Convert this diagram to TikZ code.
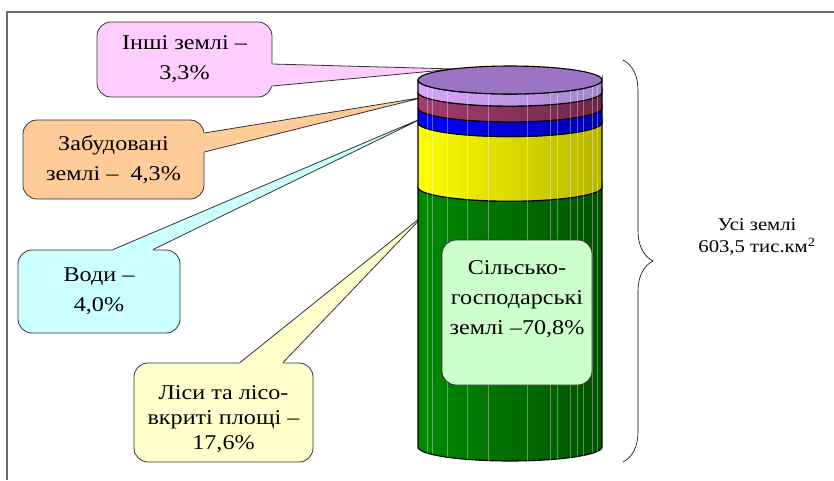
\documentclass[tikz,border=0pt]{standalone}
\usepackage{fontspec}
\setmainfont{Liberation Serif}
\newfontfamily\timesfont[FakeStretch=1.15]{Liberation Serif}
\usepackage{xcolor}
\usepackage{tikz}
\usetikzlibrary{decorations.pathreplacing, calc}

\definecolor{framegray}{HTML}{6B6B6B}
\definecolor{pinkbox}{HTML}{FFCCFF}
\definecolor{orangebox}{HTML}{FFCC99}
\definecolor{cyanbox}{HTML}{CCFFFF}
\definecolor{yellowbox}{HTML}{FFFFCC}
\definecolor{greenbox}{HTML}{CCFFCC}
\definecolor{greenL}{HTML}{008A00}
\definecolor{greenR}{HTML}{005200}
\definecolor{yellowL}{HTML}{FFFF00}
\definecolor{yellowR}{HTML}{B5B500}
\definecolor{blueL}{HTML}{0000FF}
\definecolor{blueR}{HTML}{0000B0}
\definecolor{maroonL}{HTML}{A33D70}
\definecolor{maroonR}{HTML}{6E2648}
\definecolor{lilacL}{HTML}{D9A6FF}
\definecolor{lilacR}{HTML}{A386C7}
\definecolor{lilacTop}{HTML}{9B74C4}

\begin{document}
\begin{tikzpicture}[
    x=1pt, y=-1pt,
    every node/.style={font=\timesfont\fontsize{21}{30}\selectfont, align=center},
    callout/.style={draw=black!80, line width=0.8pt, rounded corners=14pt, inner sep=4pt},
    wedge/.style={draw=black!80, line width=0.8pt},
    band/.style={draw=black, line width=1.1pt},
    decoration={brace, amplitude=30pt},
  ]
    \def\cx{510}                            % 圆柱中心 x
    \def\rx{92}                             % 椭圆横半径
    \def\ry{14}                             % 椭圆纵半径

    \useasboundingbox (0,0) rectangle (834,480);

    % 外框
    \draw[framegray, line width=2pt] (7,480) -- (7,12) -- (834,12);

    % 标注：其他土地
    \node[callout, fill=pinkbox, minimum width=175pt, minimum height=75pt] (other) at (184.5,59.5)
      {Інші землі –\\3,3\%};
    \coordinate (otherTip) at (455,69);
    \fill[pinkbox] ($(other.east)+(-2,4.5)$) -- ($(other.east)+(0,4.5)$) -- (otherTip)
      -- ($(other.east)+(0,26.5)$) -- ($(other.east)+(-2,26.5)$) -- cycle;
    \draw[wedge] ($(other.east)+(0,4.5)$) -- (otherTip) -- ($(other.east)+(0,26.5)$);

    % 标注：建成区
    \node[callout, fill=orangebox, minimum width=181pt, minimum height=79pt] (built) at (113.5,159.5)
      {Забудовані\\землі –~ 4,3\%};
    \coordinate (builtTip) at (425,97);
    \fill[orangebox] ($(built.east)+(-2,-26.5)$) -- ($(built.east)+(0,-26.5)$) -- (builtTip)
      -- ($(built.east)+(0,-7.5)$) -- ($(built.east)+(-2,-7.5)$) -- cycle;
    \draw[wedge] ($(built.east)+(0,-26.5)$) -- (builtTip) -- ($(built.east)+(0,-7.5)$);

    % 标注：水域
    \node[callout, fill=cyanbox, minimum width=162pt, minimum height=83pt] (water) at (99,291.5)
      {Води –\\4,0\%};
    \coordinate (waterTip) at (425,117);
    \fill[cyanbox] ($(water.north)+(14,2)$) -- ($(water.north)+(14,0)$) -- (waterTip)
      -- ($(water.north)+(54,0)$) -- ($(water.north)+(54,2)$) -- cycle;
    \draw[wedge] ($(water.north)+(14,0)$) -- (waterTip) -- ($(water.north)+(54,0)$);

    % 标注：森林
    \node[callout, fill=yellowbox, minimum width=179pt, minimum height=99pt,
          font=\timesfont\fontsize{21}{25}\selectfont] (forest) at (223.5,412.5)
      {\rule{0pt}{14pt}\\[-11pt]Ліси та лісо-\\вкриті площі –\\17,6\%};
    \coordinate (forestTip) at (425,214);
    \fill[yellowbox] ($(forest.north)+(16.5,2)$) -- ($(forest.north)+(16.5,0)$) -- (forestTip)
      -- ($(forest.north)+(59.5,0)$) -- ($(forest.north)+(59.5,2)$) -- cycle;
    \draw[wedge] ($(forest.north)+(16.5,0)$) -- (forestTip) -- ($(forest.north)+(59.5,0)$);

    % 圆柱各段（自下而上）
    \foreach \yt/\yb/\cl/\cr in {187.2/447/greenL/greenR, 122.6/187.2/yellowL/yellowR,
                                 107.9/122.6/blueL/blueR, 92.1/107.9/maroonL/maroonR,
                                 80/92.1/lilacL/lilacR} {
      \path[band, left color=\cl, right color=\cr]
        (\cx-\rx,\yt) -- plot[domain=180:0, samples=50] ({\cx+\rx*cos(\x)}, {\yb+\ry*sin(\x)})
        -- plot[domain=0:180, samples=50] ({\cx+\rx*cos(\x)}, {\yt+\ry*sin(\x)}) -- cycle;
    }

    % 圆柱侧面的竖线
    \foreach \fx in {427, 432, 447, 467, 488, 527, 550, 557, 570, 577, 583, 592, 597} {
      \pgfmathsetmacro{\dy}{\ry*sqrt(1-((\fx-\cx)/\rx)^2)}
      \draw[white, opacity=0.35, line width=0.5pt] (\fx,80+\dy) -- (\fx,447+\dy);
    }

    % 顶面
    \path[band, fill=lilacTop] plot[domain=0:360, samples=80] ({\cx+\rx*cos(\x)}, {80+\ry*sin(\x)}) -- cycle;

    % 农业用地
    \node[callout, fill=greenbox, minimum width=150pt, minimum height=145pt] (agri) at (517,312.5)
      {Сільсько-\\господарські\\землі –70,8\%\\\mbox{}};

    % 右侧花括号与总面积
    \draw[decorate, line width=0.6pt] (623,60) -- (623,462);
    \node[font=\timesfont\fontsize{18}{22}\selectfont] (total) at (757,237)
      {Усі землі\\603,5 тис.км\textsuperscript{2}};
  \end{tikzpicture}
\end{document}
